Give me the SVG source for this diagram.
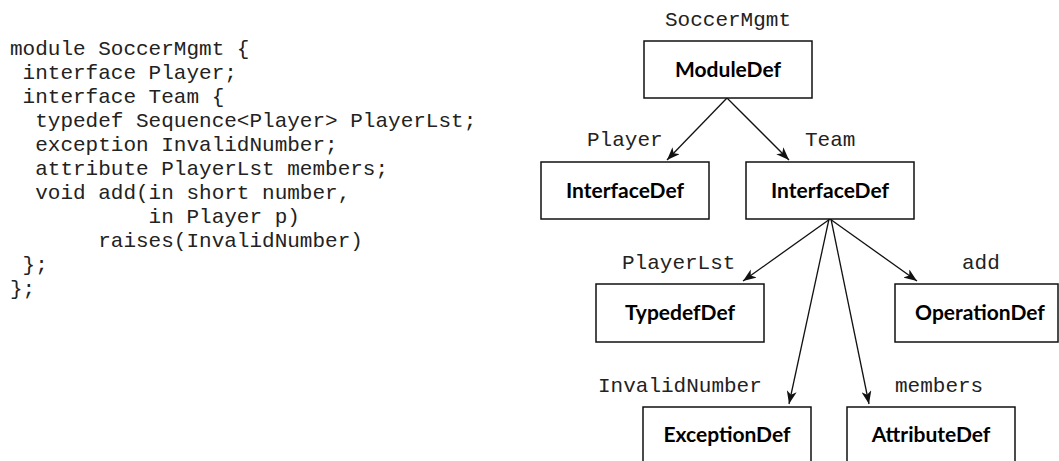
<svg xmlns="http://www.w3.org/2000/svg" width="1059" height="461" viewBox="0 0 1059 461">
<style>
.code{font-family:"Liberation Mono","Courier New",monospace;font-size:21px;fill:#222;white-space:pre}
.lbl{font-family:"Liberation Mono","Courier New",monospace;font-size:21px;fill:#222}
.box{fill:#fff;stroke:#111;stroke-width:1.5}
.nt{font-family:"Lato","Liberation Sans",Arial,sans-serif;font-weight:bold;font-size:21px;fill:#000;text-anchor:middle}
.edge{stroke:#111;stroke-width:1.3;fill:none;marker-end:url(#arr)}
</style>
<defs>
<marker id="arr" markerUnits="userSpaceOnUse" markerWidth="14" markerHeight="10" refX="13" refY="5" orient="auto">
<path d="M0,0 L13,5 L0,10 L3.5,5 z" fill="#111"/>
</marker>
</defs>
<rect width="1059" height="461" fill="#fff"/>
<g id="code">
<text class="code" x="10" y="55" xml:space="preserve">module SoccerMgmt {</text>
<text class="code" x="10" y="79" xml:space="preserve"> interface Player;</text>
<text class="code" x="10" y="103" xml:space="preserve"> interface Team {</text>
<text class="code" x="10" y="127" xml:space="preserve">  typedef Sequence&lt;Player&gt; PlayerLst;</text>
<text class="code" x="10" y="151" xml:space="preserve">  exception InvalidNumber;</text>
<text class="code" x="10" y="175" xml:space="preserve">  attribute PlayerLst members;</text>
<text class="code" x="10" y="199" xml:space="preserve">  void add(in short number,</text>
<text class="code" x="10" y="223" xml:space="preserve">           in Player p)</text>
<text class="code" x="10" y="247" xml:space="preserve">       raises(InvalidNumber)</text>
<text class="code" x="10" y="271" xml:space="preserve"> };</text>
<text class="code" x="10" y="295" xml:space="preserve">};</text>
</g>
<g id="connectors">
<line class="edge" x1="727" y1="98" x2="667" y2="160"/>
<line class="edge" x1="727" y1="98" x2="789" y2="160"/>
<line class="edge" x1="830" y1="219" x2="743" y2="281"/>
<line class="edge" x1="830" y1="219" x2="917" y2="281"/>
<line class="edge" x1="829" y1="219" x2="789" y2="404"/>
<line class="edge" x1="831" y1="219" x2="869" y2="404"/>
</g>
<g id="labels">
<text class="lbl" x="665" y="26">SoccerMgmt</text>
<text class="lbl" x="587" y="146">Player</text>
<text class="lbl" x="805" y="146">Team</text>
<text class="lbl" x="622" y="269">PlayerLst</text>
<text class="lbl" x="962" y="269">add</text>
<text class="lbl" x="598" y="392">InvalidNumber</text>
<text class="lbl" x="895" y="392">members</text>
</g>
<g id="moduledef"><rect class="box" x="644" y="41" width="168" height="57"/><text class="nt" x="728" y="77">ModuleDef</text></g>
<g id="interfacedef-player"><rect class="box" x="541" y="162" width="168" height="57"/><text class="nt" x="625" y="198">InterfaceDef</text></g>
<g id="interfacedef-team"><rect class="box" x="746" y="162" width="168" height="57"/><text class="nt" x="830" y="198">InterfaceDef</text></g>
<g id="typedefdef"><rect class="box" x="596" y="284" width="168" height="58"/><text class="nt" x="680" y="320">TypedefDef</text></g>
<g id="operationdef"><rect class="box" x="895" y="284" width="163" height="58"/><text class="nt" x="980" y="320">OperationDef</text></g>
<g id="exceptiondef"><rect class="box" x="643" y="407" width="168" height="58"/><text class="nt" x="727" y="442">ExceptionDef</text></g>
<g id="attributedef"><rect class="box" x="847" y="407" width="168" height="58"/><text class="nt" x="931" y="442">AttributeDef</text></g>
</svg>
